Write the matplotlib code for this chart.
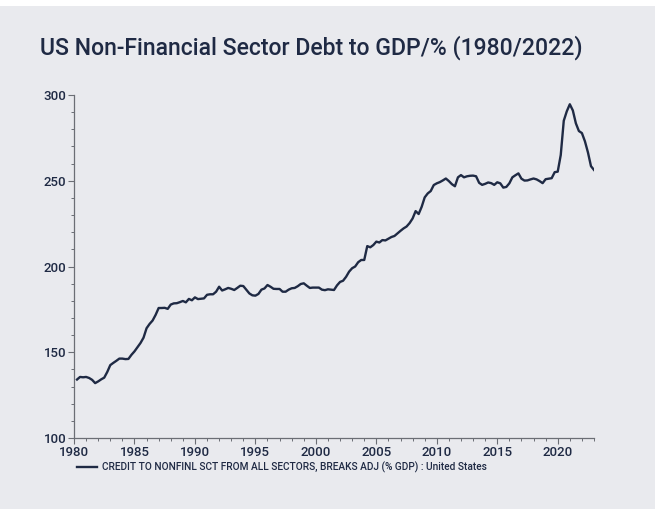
import numpy as np
import matplotlib
matplotlib.use("Agg")
import matplotlib.pyplot as plt
from matplotlib.patches import Rectangle
from matplotlib.ticker import MultipleLocator

# Quarterly series, 1980Q1 .. 2022Q4 (plotted at quarter end)
start_year = 1980
debt_to_gdp = [
    134.1, 135.6, 135.4, 135.6,   # 1980
    135.0, 133.9, 132.0, 133.0,   # 1981
    134.2, 135.2, 138.5, 142.5,   # 1982
    143.8, 145.0, 146.3, 146.3,   # 1983
    146.0, 146.1, 148.5, 150.5,   # 1984
    153.0, 155.4, 158.5, 164.0,   # 1985
    166.5, 168.5, 171.8, 175.8,   # 1986
    175.8, 175.9, 175.3, 177.8,   # 1987
    178.5, 178.6, 179.2, 179.9,   # 1988
    179.1, 181.1, 180.3, 182.0,   # 1989
    181.0, 181.2, 181.4, 183.5,   # 1990
    183.8, 183.8, 185.3, 188.2,   # 1991
    186.0, 186.7, 187.5, 187.0,   # 1992
    186.3, 187.5, 188.8, 188.6,   # 1993
    186.5, 184.3, 183.2, 183.0,   # 1994
    184.0, 186.5, 187.2, 189.2,   # 1995
    188.2, 187.0, 186.9, 186.9,   # 1996
    185.3, 185.3, 186.5, 187.3,   # 1997
    187.5, 188.5, 189.8, 190.2,   # 1998
    188.8, 187.5, 187.7, 187.7,   # 1999
    187.7, 186.5, 186.2, 186.7,   # 2000
    186.5, 186.3, 189.0, 191.0,   # 2001
    191.7, 194.0, 197.0, 199.0,   # 2002
    200.0, 202.5, 203.8, 203.8,   # 2003
    211.9, 211.2, 212.5, 214.5,   # 2004
    214.0, 215.4, 215.2, 216.2,   # 2005
    217.2, 217.8, 219.3, 220.8,   # 2006
    222.2, 223.3, 225.3, 228.0,   # 2007
    232.3, 230.6, 234.8, 240.3,   # 2008
    242.6, 244.0, 247.5, 248.5,   # 2009
    249.2, 250.2, 251.3, 249.8,   # 2010
    248.0, 246.8, 252.0, 253.3,   # 2011
    252.0, 252.6, 252.9, 253.0,   # 2012
    252.6, 248.8, 247.6, 248.2,   # 2013
    249.0, 248.6, 247.6, 249.1,   # 2014
    248.5, 246.0, 246.4, 248.5,   # 2015
    252.0, 253.2, 254.3, 251.2,   # 2016
    250.1, 250.2, 250.8, 251.3,   # 2017
    250.8, 249.8, 248.6, 250.9,   # 2018
    251.2, 251.5, 255.0, 255.3,   # 2019
    265.0, 285.0, 290.5, 294.6,   # 2020
    291.0, 283.5, 279.0, 277.8,   # 2021
    273.0, 266.5, 258.5, 256.3,   # 2022
]
quarter_end = start_year + 0.25 * (np.arange(len(debt_to_gdp)) + 1)

x_ticks = [1980, 1985, 1990, 1995, 2000, 2005, 2010, 2015, 2020]
y_ticks = [100, 150, 200, 250, 300]

title = "US Non-Financial Sector Debt to GDP/% (1980/2022)"
series_label = "CREDIT TO NONFINL SCT FROM ALL SECTORS, BREAKS ADJ (% GDP) : United States"

BG = "#e9eaee"
NAVY = "#1f2a44"
AXIS = "#6b6e75"

plt.rcParams["font.family"] = ["Roboto", "DejaVu Sans"]

fig = plt.figure(figsize=(6.55, 5.09), dpi=100, facecolor=BG)
fig.patches.append(Rectangle((0, 1 - 6 / 509), 1, 6 / 509, transform=fig.transFigure,
                             facecolor="white", edgecolor="none", zorder=-1))

ax = fig.add_axes([74 / 655, 1 - 438 / 509, (594 - 74) / 655, (438 - 95) / 509])
ax.set_facecolor(BG)

line, = ax.plot(quarter_end, debt_to_gdp, color=NAVY, lw=1.7, solid_joinstyle="round")

ax.set_xlim(1980, 2023)
ax.set_ylim(100, 300)
ax.set_xticks(x_ticks)
ax.set_yticks(y_ticks)
ax.xaxis.set_minor_locator(MultipleLocator(1))
ax.yaxis.set_minor_locator(MultipleLocator(10))

for side in ("top", "right"):
    ax.spines[side].set_visible(False)
for side in ("left", "bottom"):
    ax.spines[side].set_color(AXIS)
    ax.spines[side].set_linewidth(0.9)

ax.tick_params(axis="both", which="major", length=4, width=0.8, color=AXIS,
               labelsize=9.5, labelcolor=NAVY, pad=1.5)
ax.tick_params(axis="both", which="minor", length=2.5, width=0.7, color=AXIS)
for lbl in ax.get_xticklabels() + ax.get_yticklabels():
    lbl.set_fontweight("medium")

fig.text(40 / 655, 1 - 48 / 509, title, fontsize=16.6, color=NAVY,
         fontweight="medium", ha="left", va="center")

fig.legend([line], [series_label], loc="center left",
           bbox_to_anchor=(77 / 655, 1 - 467 / 509), frameon=False,
           prop={"size": 7.3, "weight": "medium"}, labelcolor=NAVY,
           handlelength=2.0, handletextpad=0.45,
           borderaxespad=0, borderpad=0)

fig.savefig("out.png", dpi=100, facecolor=BG)
